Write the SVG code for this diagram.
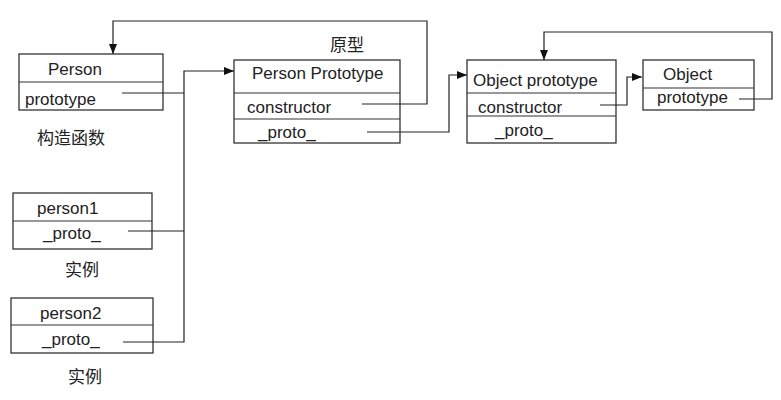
<svg xmlns="http://www.w3.org/2000/svg" width="781" height="400" viewBox="0 0 781 400">
<defs>
<marker id="arr" viewBox="0 0 10 10" refX="10" refY="5" markerWidth="10" markerHeight="10" markerUnits="userSpaceOnUse" orient="auto">
<path d="M0,1 L10,5 L0,9 Z" fill="#111"/>
</marker>
<style>
.box{fill:#fff;stroke:#333;stroke-width:1.3}
.div{stroke:#333;stroke-width:1.2}
.t{font-family:"Liberation Sans",Arial,sans-serif;font-size:17px;fill:#222}
.c{font-family:"Liberation Sans","Noto Sans CJK SC",sans-serif;font-size:17px;fill:#222}
.ln{fill:none;stroke:#222;stroke-width:1.2}
</style>
</defs>
<rect width="781" height="400" fill="#fff"/>
<g id="person">
<rect class="box" x="19" y="54" width="144" height="56"/>
<line class="div" x1="19" y1="82" x2="163" y2="82"/>
<text class="t" x="48" y="75">Person</text>
<text class="t" x="25" y="105">prototype</text>
<text class="c" x="37" y="144">构造函数</text>
</g>
<g id="person-prototype">
<rect class="box" x="234" y="60" width="166" height="83"/>
<line class="div" x1="234" y1="93" x2="400" y2="93"/>
<line class="div" x1="234" y1="119" x2="400" y2="119"/>
<text class="t" x="252" y="79">Person Prototype</text>
<text class="t" x="247" y="113">constructor</text>
<text class="t" x="258" y="138">_proto_</text>
<text class="c" x="330" y="51">原型</text>
</g>
<g id="object-prototype">
<rect class="box" x="467" y="60" width="149" height="83"/>
<line class="div" x1="467" y1="93" x2="616" y2="93"/>
<line class="div" x1="467" y1="116" x2="616" y2="116"/>
<text class="t" x="473" y="86">Object prototype</text>
<text class="t" x="478" y="113">constructor</text>
<text class="t" x="495" y="136">_proto_</text>
</g>
<g id="object">
<rect class="box" x="643" y="60" width="111" height="50"/>
<line class="div" x1="643" y1="88" x2="754" y2="88"/>
<text class="t" x="663" y="80">Object</text>
<text class="t" x="657" y="103">prototype</text>
</g>
<g id="person1">
<rect class="box" x="13" y="193" width="139" height="56"/>
<line class="div" x1="13" y1="221" x2="152" y2="221"/>
<text class="t" x="37" y="214">person1</text>
<text class="t" x="43" y="239">_proto_</text>
<text class="c" x="65" y="276">实例</text>
</g>
<g id="person2">
<rect class="box" x="11" y="298" width="142" height="55"/>
<line class="div" x1="11" y1="325" x2="153" y2="325"/>
<text class="t" x="40" y="319">person2</text>
<text class="t" x="42" y="345">_proto_</text>
<text class="c" x="68" y="383">实例</text>
</g>
<g id="connectors">
<path class="ln" d="M122,93 H184"/>
<path class="ln" d="M128,231 H184"/>
<path class="ln" d="M123,342 H184 V71 H234" marker-end="url(#arr)"/>
<path class="ln" d="M362,104 H427 V21 H113 V54" marker-end="url(#arr)"/>
<path class="ln" d="M367,132 H449 V75 H467" marker-end="url(#arr)"/>
<path class="ln" d="M600,105 H627 V77 H642" marker-end="url(#arr)"/>
<path class="ln" d="M739,99 H772 V32 H544 V60" marker-end="url(#arr)"/>
</g>
</svg>
